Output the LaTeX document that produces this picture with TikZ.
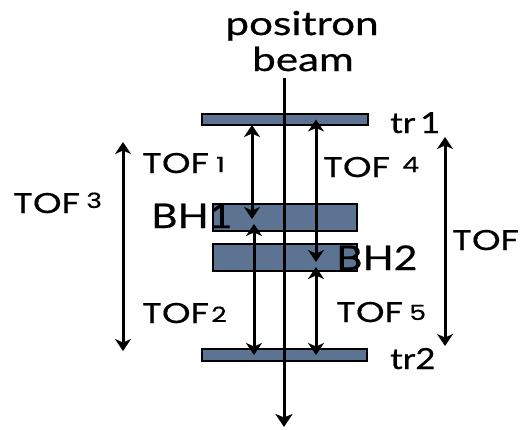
\documentclass[tikz,border=0pt]{standalone}
\usepackage{fontspec}
\usetikzlibrary{arrows.meta}
\newfontfamily\gillf[FakeStretch=1.28,FakeBold=0.6]{Lato}
\newfontfamily\gillbf[FakeStretch=1.2,FakeBold=0.6]{Lato}
\newfontfamily\gothf[FakeStretch=1.28,FakeBold=0.5]{Poppins}
\definecolor{slab}{RGB}{92,116,146}
\begin{document}
\begin{tikzpicture}[x=1pt,y=-1pt,
  plate/.style={draw=black, line width=1.8pt, fill=slab, inner sep=0pt, outer sep=0pt},
  tof/.style={font=\gothf\fontsize{28.5}{28.5}\selectfont, inner sep=0pt, anchor=base west},
  sub/.style={font=\gothf\fontsize{21}{21}\selectfont, inner sep=0pt, anchor=base west},
  lbl/.style={font=\gillf\fontsize{33}{33}\selectfont, inner sep=0pt, anchor=base west},
  trl/.style={font=\gillbf\fontsize{29}{29}\selectfont, inner sep=0pt, anchor=base west},
  big/.style={font=\gillbf\fontsize{34}{34}\selectfont, inner sep=0pt, anchor=base west},
  dbl/.style={line width=3pt, {Stealth[length=12pt,width=16pt,inset=3.5pt]}-{Stealth[length=12pt,width=16pt,inset=3.5pt]}},
  beamline/.style={line width=3pt, -{Stealth[length=13pt,width=17pt,inset=3.5pt]}}
]
\useasboundingbox (0,0) rectangle (526,429);
\fill[white] (0,0) rectangle (526,429);

% plates
\node[plate, minimum width=166pt, minimum height=11pt] (tr1) at (285,119.5) {};
\node[plate, minimum width=144pt, minimum height=27pt] (bh1) at (285,217.5) {};
\node[plate, minimum width=144pt, minimum height=27pt] (bh2) at (285,257.5) {};
\node[plate, minimum width=165pt, minimum height=12pt] (tr2) at (284.5,355) {};

% beam
\node[lbl, anchor=base] (pos) at (302,35) {positron};
\node[lbl, anchor=base] (beam) at (303,71) {beam};
\coordinate (btop) at (284,78);
\coordinate (bbot) at (284,427);
\draw[beamline] (btop) -- (bbot);

% TOF arrows between plates
\draw[dbl] ([xshift=-33pt]tr1.south) -- ([xshift=-33pt,yshift=-1.5pt]bh1.center);
\draw[dbl] ([xshift=-31pt,yshift=-6.5pt]bh1.center) -- ([xshift=-30.5pt]tr2.center);
\draw[dbl] ([xshift=31pt]tr1.center) -- ([xshift=31pt,yshift=-4.5pt]bh2.center);
\draw[dbl] ([xshift=31pt,yshift=-9.5pt]bh2.center) -- ([xshift=31.5pt]tr2.center);

% outer arrows
\coordinate (t3a) at (123,142);
\coordinate (t3b) at (123,351);
\draw[dbl] (t3a) -- (t3b);
\coordinate (ta) at (445,137);
\coordinate (tb) at (445,346);
\draw[dbl] (ta) -- (tb);

% TOF labels
\node[tof] (tof1) at (142,173) {TOF};
\node[sub] (n1) at (216,172) {1};
\node[tof] (tof2) at (142,323) {TOF};
\node[sub] (n2) at (211,322) {2};
\node[tof] (tof3) at (13,213) {TOF};
\node[sub] (n3) at (86,208) {3};
\node[tof] (tof4) at (323,177) {TOF};
\node[sub] (n4) at (402,172) {4};
\node[tof] (tof5) at (336,322) {TOF};
\node[sub] (n5) at (409,320) {5};
\node[tof] (tof) at (452,250) {TOF};

% detector labels
\node[trl] (ltr1) at (390,133) {tr\,1};
\node[trl] (ltr2) at (390,369) {tr2};
\node[big] (lbh1) at (151,228) {BH1};
\node[big] (lbh2) at (336,270) {BH2};
\end{tikzpicture}
\end{document}
